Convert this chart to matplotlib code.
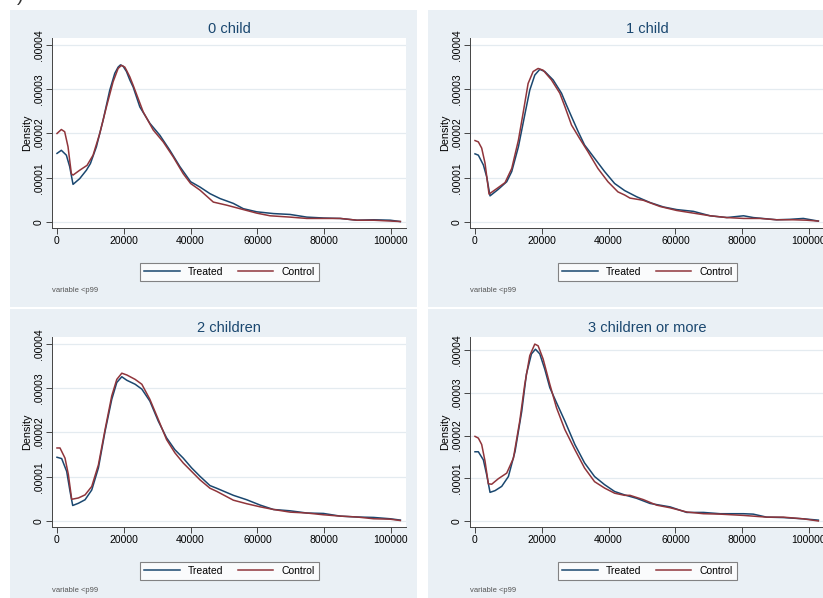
import numpy as np
import matplotlib
matplotlib.use("Agg")
import matplotlib.pyplot as plt
from matplotlib.patches import Rectangle

plt.rcParams['font.family'] = ['Liberation Sans', 'DejaVu Sans']

# kernel density curves, income on x, density in units of 1e-5
titles = ['0 child', '1 child', '2 children', '3 children or more']

x0_t = [0, 1300, 2800, 3800, 4800, 6800, 8800, 10000, 11800, 13800, 15800, 17300, 18300, 19000,
        19800, 20800, 21800, 22800, 24800, 27800, 30800, 33800, 36800, 40000, 42800, 45800,
        48800, 52800, 55800, 59800, 64800, 69800, 74800, 79800, 84800, 89800, 94800, 99800, 102800]
y0_t = [1.55, 1.62, 1.51, 1.25, 0.85, 0.98, 1.17, 1.32, 1.70, 2.30, 2.98, 3.36, 3.50, 3.55,
        3.52, 3.40, 3.21, 3.05, 2.60, 2.23, 1.96, 1.62, 1.25, 0.91, 0.79, 0.64,
        0.53, 0.42, 0.30, 0.23, 0.19, 0.17, 0.11, 0.09, 0.08, 0.04, 0.05, 0.04, 0.01]
x0_c = [0, 1300, 2300, 3300, 4300, 4800, 6800, 9000, 10800, 12800, 14800, 16800, 18300, 19300,
        20300, 20800, 21800, 22800, 25800, 28800, 31800, 34800, 37800, 40000, 42800, 46800,
        50800, 54800, 59800, 63800, 69800, 74800, 84800, 89800, 94800, 102800]
y0_c = [2.00, 2.09, 2.04, 1.70, 1.09, 1.06, 1.17, 1.28, 1.51, 2.00, 2.60, 3.17, 3.47, 3.54,
        3.50, 3.43, 3.28, 3.09, 2.49, 2.08, 1.81, 1.47, 1.09, 0.87, 0.72, 0.45,
        0.38, 0.30, 0.20, 0.14, 0.11, 0.08, 0.08, 0.04, 0.04, 0.01]

x1_t = [0, 1000, 2500, 3500, 4500, 7000, 9500, 11000, 13000, 15000, 16400, 17900, 19400, 20900,
        23400, 25900, 27400, 28900, 30900, 32800, 35800, 38800, 41800, 44800, 48400, 52400,
        56400, 60400, 65400, 70400, 75400, 80400, 83300, 90300, 94300, 98300, 102800]
y1_t = [1.54, 1.51, 1.29, 1.02, 0.59, 0.74, 0.91, 1.14, 1.70, 2.46, 2.98, 3.32, 3.45, 3.40,
        3.21, 2.91, 2.64, 2.38, 2.04, 1.74, 1.44, 1.14, 0.87, 0.71, 0.57, 0.44,
        0.34, 0.28, 0.24, 0.14, 0.10, 0.14, 0.10, 0.05, 0.06, 0.08, 0.02]
x1_c = [0, 1000, 2000, 3000, 4200, 7000, 9000, 11000, 13000, 14400, 15900, 17400, 18900, 20400,
        22900, 25400, 26900, 28900, 31300, 33800, 36800, 39800, 42800, 44800, 46400, 50400,
        55400, 60400, 65400, 70400, 75400, 80400, 85300, 90300, 95300, 99300, 102800]
y1_c = [1.84, 1.81, 1.67, 1.33, 0.63, 0.78, 0.89, 1.21, 1.85, 2.46, 3.13, 3.40, 3.47, 3.43,
        3.21, 2.91, 2.61, 2.19, 1.89, 1.59, 1.21, 0.91, 0.68, 0.61, 0.54, 0.49,
        0.35, 0.26, 0.20, 0.14, 0.10, 0.08, 0.08, 0.05, 0.05, 0.04, 0.02]

x2_t = [0, 1400, 2900, 3900, 4700, 6400, 8400, 10400, 12400, 14400, 16400, 17900, 19400, 20900,
        23400, 25400, 27800, 30300, 32800, 35300, 37800, 40300, 42800, 45800, 47800, 52800,
        56800, 60800, 64800, 69800, 74800, 79800, 84800, 89800, 94800, 99800, 102800]
y2_t = [1.44, 1.41, 1.12, 0.67, 0.35, 0.40, 0.48, 0.70, 1.20, 2.03, 2.75, 3.13, 3.26, 3.18,
        3.09, 2.98, 2.71, 2.26, 1.88, 1.61, 1.42, 1.20, 1.01, 0.80, 0.74, 0.58,
        0.48, 0.36, 0.26, 0.23, 0.18, 0.17, 0.11, 0.09, 0.08, 0.05, 0.02]
x2_c = [0, 900, 2400, 3400, 4400, 6400, 8400, 10400, 12400, 14400, 16400, 17900, 19400, 20900,
        23400, 25400, 27800, 30300, 32800, 35300, 37800, 40300, 42800, 45800, 47800, 52800,
        56800, 60800, 64800, 69800, 74800, 79800, 84800, 89800, 94800, 99800, 102800]
y2_c = [1.65, 1.65, 1.42, 1.05, 0.49, 0.52, 0.59, 0.78, 1.27, 2.07, 2.83, 3.20, 3.34, 3.30,
        3.20, 3.09, 2.75, 2.30, 1.84, 1.54, 1.31, 1.12, 0.93, 0.74, 0.67, 0.47,
        0.39, 0.32, 0.26, 0.20, 0.18, 0.14, 0.11, 0.09, 0.05, 0.04, 0.01]

x3_t = [0, 1000, 2500, 3500, 4500, 6000, 8000, 10000, 12000, 14000, 15400, 16900, 18100, 19400,
        20900, 22400, 24400, 26900, 29900, 32800, 35800, 38800, 41800, 44800, 48400, 52400,
        58400, 63400, 68400, 73400, 80400, 83300, 87300, 92300, 98300, 102800]
y3_t = [1.62, 1.62, 1.43, 1.08, 0.67, 0.71, 0.81, 1.04, 1.63, 2.57, 3.44, 3.91, 4.02, 3.91,
        3.55, 3.12, 2.77, 2.34, 1.79, 1.36, 1.04, 0.85, 0.69, 0.61, 0.53, 0.41,
        0.33, 0.20, 0.20, 0.17, 0.17, 0.16, 0.09, 0.08, 0.05, 0.02]
x3_c = [0, 1000, 2000, 3000, 4000, 5000, 7000, 9500, 11500, 13400, 14900, 16400, 17900, 18900,
        20400, 22400, 24400, 26900, 29900, 32800, 35800, 38800, 41800, 44800, 46400, 50400,
        54400, 58400, 63400, 68400, 73400, 80400, 87300, 92300, 98300, 102800]
y3_c = [1.98, 1.94, 1.79, 1.40, 0.87, 0.86, 0.99, 1.12, 1.47, 2.34, 3.20, 3.87, 4.14, 4.10,
        3.79, 3.20, 2.65, 2.14, 1.67, 1.24, 0.92, 0.77, 0.65, 0.60, 0.60, 0.50,
        0.37, 0.31, 0.21, 0.17, 0.16, 0.13, 0.09, 0.09, 0.05, 0.00]

treated = [(x0_t, y0_t), (x1_t, y1_t), (x2_t, y2_t), (x3_t, y3_t)]
control = [(x0_c, y0_c), (x1_c, y1_c), (x2_c, y2_c), (x3_c, y3_c)]

xticks = [0, 20000, 40000, 60000, 80000, 100000]
yticks = [0, 0.00001, 0.00002, 0.00003, 0.00004]
ytick_labels = ['0', '.00001', '.00002', '.00003', '.00004']
ylims = [(-0.136e-5, 4.158e-5), (-0.136e-5, 4.158e-5), (-0.136e-5, 4.158e-5), (-0.141e-5, 4.306e-5)]

W, H = 823, 598
BG = '#eaf0f5'
NAVY = '#1a476f'
MAROON = '#90353b'

fig = plt.figure(figsize=(W / 100, H / 100), dpi=100)
fig.patch.set_facecolor('white')


def frac(x, y, w, h):
    # pixel box (top-left origin) -> figure fraction
    return [x / W, 1 - (y + h) / H, w / W, h / H]


offsets = [(0, 0), (418, 0), (0, 299), (418, 299)]

for i, (dx, dy) in enumerate(offsets):
    bx, by, bw, bh = frac(10 + dx, 10 + dy, 407, 297)
    fig.patches.append(Rectangle((bx, by), bw, bh, transform=fig.transFigure,
                                 facecolor=BG, edgecolor='none', zorder=-5))

    ax = fig.add_axes(frac(52 + dx, 38 + dy, 354, 190))
    ax.set_facecolor('white')
    tx, ty = treated[i]
    cx, cy = control[i]
    ax.plot(tx, np.array(ty) * 1e-5, color=NAVY, lw=1.1, label='Treated', zorder=3)
    ax.plot(cx, np.array(cy) * 1e-5, color=MAROON, lw=1.1, label='Control', zorder=3)

    ax.set_xlim(-1497, 104491)
    ax.set_ylim(*ylims[i])
    ax.set_xticks(xticks)
    ax.set_xticklabels([str(v) for v in xticks], fontsize=7.5)
    ax.set_yticks(yticks)
    ax.set_yticklabels(ytick_labels, fontsize=7.5, rotation=90, va='center')
    ax.tick_params(axis='both', length=4, width=0.7, color='#444444', pad=2)
    ax.grid(axis='y', color='#e4ebf0', lw=0.9, zorder=1)
    for s in ['top', 'right']:
        ax.spines[s].set_visible(False)
    for s in ['left', 'bottom']:
        ax.spines[s].set_color('#444444')
        ax.spines[s].set_linewidth(0.7)
    ax.set_ylabel('Density', fontsize=7.8, labelpad=1)

    fig.text((229 + dx) / W, 1 - (29 + dy) / H, titles[i], ha='center', va='center',
             fontsize=10.5, color=NAVY)
    fig.text((52 + dx) / W, 1 - (291 + dy) / H, 'variable <p99', ha='left', va='center',
             fontsize=5.5, color='#555555')

    leg = ax.legend(loc='center', ncol=2, fontsize=7.5, frameon=True, fancybox=False,
                    bbox_to_anchor=((229.5 + dx) / W, 1 - (272 + dy) / H),
                    bbox_transform=fig.transFigure, handlelength=3.4, handletextpad=0.8,
                    columnspacing=1.4, borderpad=0.4, borderaxespad=0)
    leg.get_frame().set_edgecolor('#666666')
    leg.get_frame().set_linewidth(0.8)

fig.text(20 / W, 1 + 3 / H, ')', ha='center', va='center', fontsize=14, color='#333333')

fig.savefig('out.png', dpi=100, facecolor='white')
